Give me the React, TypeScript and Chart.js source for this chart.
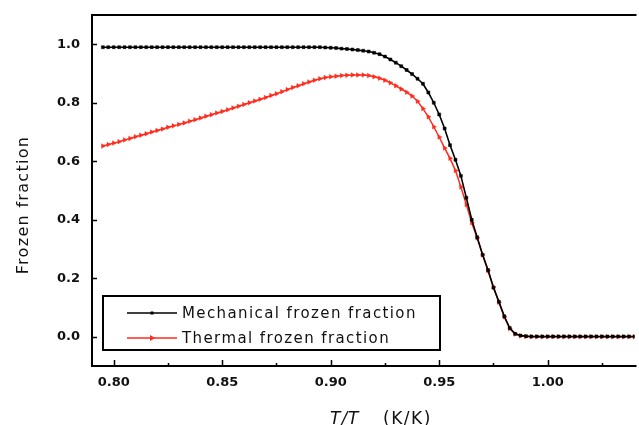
import { useEffect, useRef } from "react";
import { Chart, registerables } from "chart.js";

Chart.register(...registerables);

// ---- data ----
const temps = [
  0.795, 0.7975, 0.8, 0.8025, 0.805, 0.8075, 0.81, 0.8125, 0.815, 0.8175,
  0.82, 0.8225, 0.825, 0.8275, 0.83, 0.8325, 0.835, 0.8375, 0.84, 0.8425,
  0.845, 0.8475, 0.85, 0.8525, 0.855, 0.8575, 0.86, 0.8625, 0.865, 0.8675,
  0.87, 0.8725, 0.875, 0.8775, 0.88, 0.8825, 0.885, 0.8875, 0.89, 0.8925,
  0.895, 0.8975, 0.9, 0.9025, 0.905, 0.9075, 0.91, 0.9125, 0.915, 0.9175,
  0.92, 0.9225, 0.925, 0.9275, 0.93, 0.9325, 0.935, 0.9375, 0.94, 0.9425,
  0.945, 0.9475, 0.95, 0.9525, 0.955, 0.9575, 0.96, 0.9625, 0.965, 0.9675,
  0.97, 0.9725, 0.975, 0.9775, 0.98, 0.9825, 0.985, 0.9875, 0.99, 0.9925,
  0.995, 0.9975, 1.0, 1.0025, 1.005, 1.0075, 1.01, 1.0125, 1.015, 1.0175,
  1.02, 1.0225, 1.025, 1.0275, 1.03, 1.0325, 1.035, 1.0375, 1.04,
];

const mechanical = [
  0.99, 0.99, 0.99, 0.99, 0.99, 0.99, 0.99, 0.99, 0.99, 0.99,
  0.99, 0.99, 0.99, 0.99, 0.99, 0.99, 0.99, 0.99, 0.99, 0.99,
  0.99, 0.99, 0.99, 0.99, 0.99, 0.99, 0.99, 0.99, 0.99, 0.99,
  0.99, 0.99, 0.99, 0.99, 0.99, 0.99, 0.99, 0.99, 0.99, 0.99,
  0.99, 0.989, 0.988, 0.987, 0.985, 0.984, 0.982, 0.98, 0.978, 0.975,
  0.971, 0.966, 0.958, 0.948, 0.937, 0.925, 0.912, 0.898, 0.882, 0.865,
  0.835, 0.8, 0.76, 0.712, 0.655, 0.605, 0.55, 0.475, 0.4, 0.34,
  0.28, 0.228, 0.168, 0.12, 0.07, 0.03, 0.01, 0.004, 0.002, 0.001,
  0.001, 0.001, 0.001, 0.001, 0.001, 0.001, 0.001, 0.001, 0.001, 0.001,
  0.001, 0.001, 0.001, 0.001, 0.001, 0.001, 0.001, 0.001, 0.001,
];

const thermal = [
  0.652, 0.657, 0.662, 0.667, 0.673, 0.678, 0.684, 0.689, 0.694, 0.7,
  0.705, 0.71, 0.716, 0.721, 0.726, 0.731, 0.737, 0.742, 0.748, 0.754,
  0.759, 0.765, 0.77, 0.776, 0.782, 0.788, 0.794, 0.8, 0.806, 0.812,
  0.818, 0.825, 0.831, 0.838, 0.845, 0.852, 0.858, 0.865, 0.871, 0.877,
  0.882, 0.886, 0.889, 0.891, 0.893, 0.894, 0.895, 0.895, 0.895, 0.893,
  0.889, 0.884, 0.877, 0.868, 0.858, 0.847, 0.836, 0.823, 0.805, 0.78,
  0.752, 0.718, 0.683, 0.645, 0.61, 0.568, 0.512, 0.452, 0.39, 0.338,
  0.28, 0.226, 0.17, 0.118, 0.068, 0.028, 0.009, 0.003, 0.001, 0.0,
  0.0, 0.0, 0.0, 0.0, 0.0, 0.0, 0.0, 0.0, 0.0, 0.0,
  0.0, 0.0, 0.0, 0.0, 0.0, 0.0, 0.0, 0.0, 0.0,
];

const xTicks = [0.8, 0.85, 0.9, 0.95, 1.0];
const xMinorTicks = [0.825, 0.875, 0.925, 0.975, 1.025];
const yTicks = [0, 0.2, 0.4, 0.6, 0.8, 1.0];
const seriesLabels = ["Mechanical frozen fraction", "Thermal frozen fraction"];
const yTitle = "Frozen fraction";
const xTitleMain = "T/T";
const xTitleUnit = "(K/K)";

const BLACK = "#000000";
const RED = "#ff2b1c";
const TEXT = "#111111";

const decorPlugin = {
  id: "decor",
  afterDraw(chart: any) {
    const { ctx, chartArea: a, scales } = chart;
    const x = scales.x;
    const y = scales.y;
    ctx.save();
    // frame (top, left, bottom)
    ctx.strokeStyle = BLACK;
    ctx.lineWidth = 2;
    ctx.beginPath();
    ctx.moveTo(a.left - 1, a.top);
    ctx.lineTo(a.right + 2, a.top);
    ctx.moveTo(a.left, a.top - 1);
    ctx.lineTo(a.left, a.bottom + 1);
    ctx.moveTo(a.left - 1, a.bottom);
    ctx.lineTo(a.right + 2, a.bottom);
    ctx.stroke();

    // inward ticks
    ctx.lineWidth = 1.5;
    ctx.beginPath();
    xTicks.forEach((v) => {
      const px = Math.round(x.getPixelForValue(v)) + 0.5;
      ctx.moveTo(px, a.bottom);
      ctx.lineTo(px, a.bottom - 6);
    });
    xMinorTicks.forEach((v) => {
      const px = Math.round(x.getPixelForValue(v)) + 0.5;
      ctx.moveTo(px, a.bottom);
      ctx.lineTo(px, a.bottom - 3);
    });
    yTicks.forEach((v) => {
      const py = Math.round(y.getPixelForValue(v)) + 0.5;
      ctx.moveTo(a.left, py);
      ctx.lineTo(a.left + 5, py);
    });
    ctx.stroke();

    // legend
    const lx = a.left + 11;
    const ly = a.top + 281;
    ctx.lineWidth = 2;
    ctx.strokeStyle = BLACK;
    ctx.strokeRect(lx, ly, 337, 54);
    const rows = [
      { label: seriesLabels[0], color: BLACK, yy: ly + 17, marker: "rect" },
      { label: seriesLabels[1], color: RED, yy: ly + 42, marker: "tri" },
    ];
    rows.forEach((r) => {
      ctx.strokeStyle = r.color;
      ctx.fillStyle = r.color;
      ctx.lineWidth = 1.5;
      ctx.beginPath();
      ctx.moveTo(lx + 24, r.yy);
      ctx.lineTo(lx + 74, r.yy);
      ctx.stroke();
      const mx = lx + 49;
      if (r.marker === "rect") {
        ctx.fillRect(mx - 1.5, r.yy - 1.5, 3, 3);
      } else {
        ctx.beginPath();
        ctx.moveTo(mx + 3, r.yy);
        ctx.lineTo(mx - 2, r.yy - 3);
        ctx.lineTo(mx - 2, r.yy + 3);
        ctx.closePath();
        ctx.fill();
      }
      ctx.fillStyle = TEXT;
      ctx.font = "15px 'DejaVu Sans'";
      (ctx as any).letterSpacing = "1.4px";
      ctx.textAlign = "left";
      ctx.textBaseline = "middle";
      ctx.fillText(r.label, lx + 79, r.yy + 1);
    });

    // y title
    ctx.save();
    ctx.translate(24, 205);
    ctx.rotate(-Math.PI / 2);
    ctx.font = "16px 'DejaVu Sans'";
    (ctx as any).letterSpacing = "1.3px";
    ctx.fillStyle = TEXT;
    ctx.textAlign = "center";
    ctx.textBaseline = "middle";
    ctx.fillText(yTitle, 0, 0);
    ctx.restore();

    // x title
    ctx.fillStyle = TEXT;
    ctx.textBaseline = "alphabetic";
    ctx.textAlign = "left";
    (ctx as any).letterSpacing = "1px";
    ctx.font = "italic 17px 'DejaVu Sans'";
    ctx.fillText(xTitleMain, 330, 424);
    (ctx as any).letterSpacing = "1.5px";
    ctx.font = "17px 'DejaVu Sans'";
    ctx.fillText(xTitleUnit, 383, 424);
    ctx.restore();
  },
};

export default function App() {
  const ref = useRef<HTMLCanvasElement | null>(null);

  useEffect(() => {
    if (!ref.current) return;
    const mech = temps.map((t, i) => ({ x: t, y: mechanical[i] }));
    const therm = temps.map((t, i) => ({ x: t, y: thermal[i] }));
    const tickFont = { family: "'DejaVu Sans'", weight: "bold" as const, size: 13 };
    const chart = new Chart(ref.current, {
      type: "line",
      data: {
        datasets: [
          {
            label: seriesLabels[0],
            data: mech,
            borderColor: BLACK,
            backgroundColor: BLACK,
            borderWidth: 1.6,
            pointStyle: "rect",
            pointRadius: 2.1,
            pointBorderWidth: 0.5,
            pointBackgroundColor: BLACK,
            pointBorderColor: BLACK,
            tension: 0,
          },
          {
            label: seriesLabels[1],
            data: therm,
            borderColor: RED,
            backgroundColor: RED,
            borderWidth: 1.5,
            pointStyle: "triangle",
            rotation: 90,
            pointRadius: 2.6,
            pointBorderWidth: 0.5,
            pointBackgroundColor: RED,
            pointBorderColor: RED,
            tension: 0,
          },
        ],
      },
      options: {
        responsive: false,
        animation: false,
        layout: { padding: { top: 15, right: 0, left: 0, bottom: 0 } },
        plugins: {
          legend: { display: false },
          tooltip: { enabled: false },
        },
        scales: {
          x: {
            type: "linear",
            min: 0.79,
            max: 1.04,
            grid: { display: false, drawTicks: false },
            border: { display: false },
            ticks: {
              font: tickFont,
              color: TEXT,
              padding: 9,
              maxRotation: 0,
              callback: (v: any) => Number(v).toFixed(2),
            },
            afterBuildTicks: (s: any) => {
              s.ticks = xTicks.map((v) => ({ value: v }));
            },
            afterFit: (s: any) => {
              s.height = 59;
              s.paddingLeft = 0;
              s.paddingRight = 0;
            },
          },
          y: {
            type: "linear",
            min: -0.1,
            max: 1.1,
            grid: { display: false, drawTicks: false },
            border: { display: false },
            ticks: {
              font: tickFont,
              color: TEXT,
              padding: 12,
              callback: (v: any) => Number(v).toFixed(1),
            },
            afterBuildTicks: (s: any) => {
              s.ticks = yTicks.map((v) => ({ value: v }));
            },
            afterFit: (s: any) => {
              s.width = 92;
              s.paddingTop = 0;
              s.paddingBottom = 0;
            },
          },
        },
      },
      plugins: [decorPlugin],
    });
    return () => chart.destroy();
  }, []);

  return (
    <div style={{ position: "absolute", left: 0, top: 0, width: 639, height: 425, background: "#fff" }}>
      <canvas ref={ref} width={639} height={425} style={{ display: "block" }} />
    </div>
  );
}
